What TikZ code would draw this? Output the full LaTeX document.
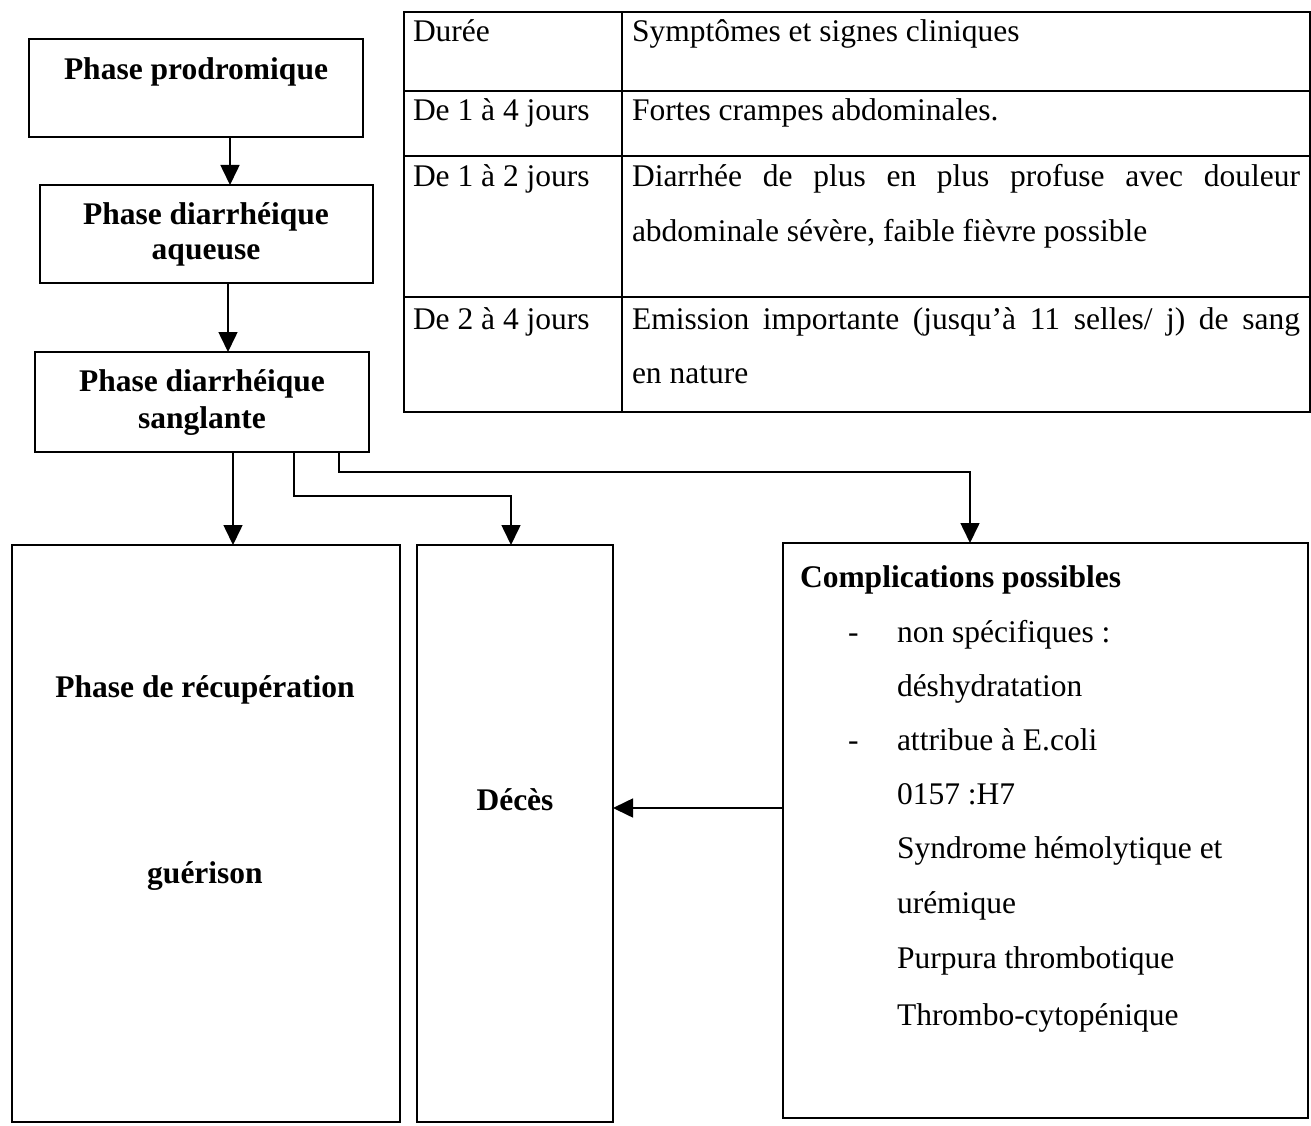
\documentclass[tikz,border=0pt]{standalone}
\usepackage{fontspec}
\setmainfont{Liberation Serif}
\usetikzlibrary{arrows.meta}
\begin{document}
\begin{tikzpicture}[x=1pt,y=-1pt,
  every node/.style={inner sep=0pt,outer sep=0pt},
  box/.style={draw,line width=1.6pt,rectangle},
  conn/.style={line width=1.6pt},
  arr/.style={line width=1.6pt,-{Triangle[length=20pt,width=19pt]}},
  bt/.style={font=\fontsize{31.5}{38}\selectfont\bfseries,align=center},
  tt/.style={font=\fontsize{31.5}{38}\selectfont,anchor=base west}]
\useasboundingbox[fill=white] (0,0) rectangle (1311,1126);
% boxes
\node[box,minimum width=334pt,minimum height=98pt] (b1) at (196,88) {};
\node[box,minimum width=333pt,minimum height=98pt] (b2) at (206.5,234) {};
\node[box,minimum width=334pt,minimum height=100pt] (b3) at (202,402) {};
\node[box,minimum width=388pt,minimum height=577pt] (rec) at (206,833.5) {};
\node[box,minimum width=196pt,minimum height=577pt] (dec) at (515,833.5) {};
\node[box,minimum width=525pt,minimum height=575pt] (comp) at (1045.5,830.5) {};
% box texts
\node[bt] (t1) at (196,72) {Phase prodromique};
\node[bt] (t2a) at (206,217) {Phase diarrhéique};
\node[bt] (t2b) at (206,255) {aqueuse};
\node[bt] (t3a) at (202,384) {Phase diarrhéique};
\node[bt] (t3b) at (202,421) {sanglante};
\node[bt] (t4a) at (205,690) {Phase de récupération};
\node[bt] (t4b) at (205,876) {guérison};
\node[bt] (t5) at (515,800) {Décès};
% complications text
\node[tt,font=\fontsize{31.5}{38}\selectfont\bfseries] (c0) at (800,587) {Complications possibles};
\node[tt] (d1) at (848,642) {-};
\node[tt] (c1) at (897,642) {non spécifiques :};
\node[tt] (c2) at (897,696) {déshydratation};
\node[tt] (d2) at (848,750) {-};
\node[tt] (c3) at (897,750) {attribue à E.coli};
\node[tt] (c4) at (897,804) {0157 :H7};
\node[tt] (c5) at (897,858) {Syndrome hémolytique et};
\node[tt] (c6) at (897,913) {urémique};
\node[tt] (c7) at (897,968) {Purpura thrombotique};
\node[tt] (c8) at (897,1025) {Thrombo-cytopénique};
% table
\node[box,minimum width=906pt,minimum height=400pt] (tab) at (857,212) {};
\coordinate (tc) at (622,0);
\coordinate (r1) at (0,91);
\coordinate (r2) at (0,156);
\coordinate (r3) at (0,297);
\draw[conn] (tab.north -| tc) -- (tab.south -| tc);
\draw[conn] (tab.west |- r1) -- (tab.east |- r1);
\draw[conn] (tab.west |- r2) -- (tab.east |- r2);
\draw[conn] (tab.west |- r3) -- (tab.east |- r3);
\node[tt] (h1) at (413,42) {Durée};
\node[tt] (h2) at (632,42) {Symptômes et signes cliniques};
\node[tt] (a1) at (413,121) {De 1 à 4 jours};
\node[tt] (a2) at (632,121) {Fortes crampes abdominales.};
\node[tt] (b1t) at (413,186) {De 1 à 2 jours};
\node[tt] (b2t) at (632,186) {\makebox[668pt][s]{Diarrhée de plus en plus profuse avec douleur}};
\node[tt] (b3t) at (632,241) {abdominale sévère, faible fièvre possible};
\node[tt] (e1) at (413,329) {De 2 à 4 jours};
\node[tt] (e2) at (632,329) {\makebox[668pt][s]{Emission importante (jusqu’à 11 selles/ j) de sang}};
\node[tt] (e3) at (632,383) {en nature};
% connectors
\coordinate (x1) at (230,0);
\coordinate (x2) at (228,0);
\coordinate (x3) at (233,0);
\coordinate (x4) at (294,0);
\coordinate (x5) at (339,0);
\coordinate (x6) at (511,0);
\coordinate (x7) at (970,0);
\coordinate (y4) at (0,496);
\coordinate (y5) at (0,472);
\coordinate (y6) at (0,808);
\draw[arr] (b1.south -| x1) -- (b2.north -| x1);
\draw[arr] (b2.south -| x2) -- (b3.north -| x2);
\draw[arr] (b3.south -| x3) -- (rec.north -| x3);
\draw[arr] (b3.south -| x4) -- (x4 |- y4) -- (x6 |- y4) -- (dec.north -| x6);
\draw[arr] (b3.south -| x5) -- (x5 |- y5) -- (x7 |- y5) -- (comp.north -| x7);
\draw[arr] (comp.west |- y6) -- (dec.east |- y6);
\end{tikzpicture}
\end{document}
